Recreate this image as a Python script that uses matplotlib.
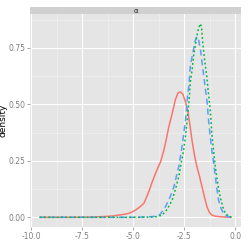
import matplotlib
matplotlib.use("Agg")
import matplotlib.pyplot as plt
from matplotlib.patches import Rectangle

# density curves
red_x = [-9.6, -8.0, -7.0, -6.5, -6.0, -5.7, -5.4, -5.22, -5.05, -4.9, -4.7, -4.49,
         -4.33, -4.2, -4.08, -3.92, -3.8, -3.67, -3.51, -3.38, -3.27, -3.1, -2.95,
         -2.82, -2.70, -2.58, -2.45, -2.33, -2.22, -2.13, -2.0, -1.89, -1.76, -1.64,
         -1.52, -1.40, -1.28, -1.16, -1.0, -0.8, -0.5, -0.2]
red_y = [0, 0, 0.001, 0.003, 0.006, 0.010, 0.014, 0.018, 0.024, 0.032, 0.045, 0.062,
         0.095, 0.125, 0.157, 0.194, 0.22, 0.246, 0.297, 0.35, 0.40, 0.46, 0.52,
         0.55, 0.555, 0.545, 0.51, 0.466, 0.40, 0.34, 0.27, 0.224, 0.18, 0.135,
         0.09, 0.047, 0.022, 0.01, 0.005, 0.003, 0.001, 0.0]

blue_x = [-9.6, -7.0, -5.0, -4.2, -3.9, -3.7, -3.43, -3.2, -3.02, -2.9, -2.78, -2.62,
          -2.45, -2.37, -2.29, -2.21, -2.13, -2.05, -1.97, -1.9, -1.82, -1.72, -1.64,
          -1.56, -1.48, -1.40, -1.32, -1.24, -1.16, -1.07, -0.99, -0.91, -0.83, -0.71,
          -0.59, -0.45, -0.2]
blue_y = [0, 0, 0, 0.002, 0.005, 0.012, 0.047, 0.09, 0.135, 0.18, 0.224, 0.312,
          0.43, 0.518, 0.58, 0.672, 0.71, 0.746, 0.783, 0.80, 0.79, 0.745, 0.687,
          0.63, 0.57, 0.518, 0.43, 0.36, 0.297, 0.24, 0.18, 0.125, 0.076, 0.04,
          0.018, 0.006, 0.0]

green_x = [-9.6, -7.0, -5.0, -4.0, -3.8, -3.59, -3.35, -3.1, -2.94, -2.78, -2.66, -2.54,
           -2.45, -2.37, -2.29, -2.21, -2.13, -2.05, -1.97, -1.89, -1.80, -1.72, -1.66,
           -1.61, -1.54, -1.48, -1.40, -1.35, -1.29, -1.23, -1.16, -1.07, -0.99, -0.87,
           -0.75, -0.62, -0.5, -0.35, -0.2]
green_y = [0, 0, 0, 0.001, 0.004, 0.01, 0.035, 0.076, 0.125, 0.18, 0.24, 0.297,
           0.36, 0.43, 0.50, 0.60, 0.65, 0.716, 0.76, 0.805, 0.84, 0.857, 0.84,
           0.776, 0.72, 0.673, 0.62, 0.57, 0.52, 0.466, 0.371, 0.29, 0.224, 0.15,
           0.09, 0.045, 0.018, 0.005, 0.0]

x_ticks = [-10.0, -7.5, -5.0, -2.5, 0.0]
y_ticks = [0.0, 0.25, 0.5, 0.75]
strip_label = "α"

fig = plt.figure(figsize=(2.49, 2.49), dpi=100)
left, right, bottom, top = 30 / 249, 241 / 249, 1 - 227 / 249, 1 - 14 / 249
ax = fig.add_axes([left, bottom, right - left, top - bottom])
ax.set_facecolor("#E5E5E5")

ax.plot(red_x, red_y, color="#F8766D", lw=1.1, solid_capstyle="butt", zorder=3)
ax.plot(blue_x, blue_y, color="#619CFF", lw=1.1, dashes=(4, 2.5), zorder=3)
ax.plot(green_x, green_y, color="#00BA38", lw=1.1, dashes=(1.2, 1.6), zorder=3)

ax.set_xlim(-10.07, 0.27)
ax.set_ylim(-0.043, 0.9)
ax.set_xticks(x_ticks)
ax.set_xticklabels([f"{t:.1f}" for t in x_ticks])
ax.set_yticks(y_ticks)
ax.set_yticklabels([f"{t:.2f}" for t in y_ticks])
ax.set_xticks([-8.75, -6.25, -3.75, -1.25], minor=True)
ax.set_yticks([0.125, 0.375, 0.625, 0.875], minor=True)
ax.grid(True, which="major", color="white", lw=0.8)
ax.grid(True, which="minor", color="#F2F2F2", lw=0.4)
ax.set_axisbelow(True)
for s in ax.spines.values():
    s.set_visible(False)
ax.tick_params(which="major", length=2, width=0.5, color="#7F7F7F",
               labelcolor="#7F7F7F", labelsize=5.5, pad=1.5)
ax.tick_params(which="minor", length=0)
ax.set_ylabel("density", fontsize=6.5)
ax.yaxis.set_label_coords(-0.105, 0.5)

# facet strip
strip_h = 7 / 249
fig.patches.append(Rectangle((left, top), right - left, strip_h, transform=fig.transFigure,
                             facecolor="#D0D0D0", edgecolor="none"))
fig.text((left + right) / 2, top + strip_h / 2, strip_label, ha="center", va="center",
         fontsize=5, color="#1A1A1A")

fig.savefig("out.png", dpi=100)
